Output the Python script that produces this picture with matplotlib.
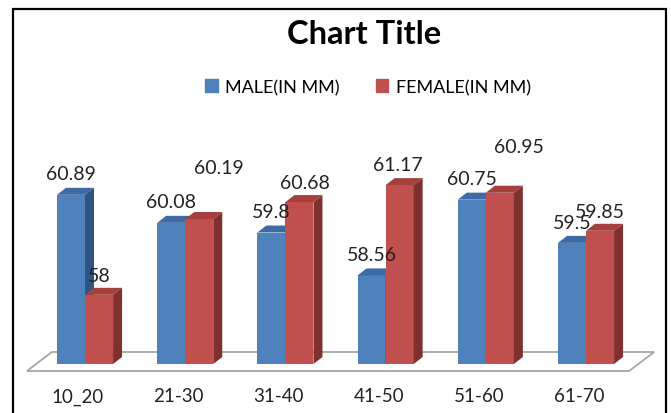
import matplotlib
matplotlib.use("Agg")
import matplotlib.pyplot as plt
from matplotlib.patches import Polygon, Rectangle
import numpy as np

categories = ["10_20", "21-30", "31-40", "41-50", "51-60", "61-70"]
male = [60.89, 60.08, 59.8, 58.56, 60.75, 59.5]
female = [58, 60.19, 60.68, 61.17, 60.95, 59.85]
series_names = ["MALE(IN MM)", "FEMALE(IN MM)"]

FONT = ["Lato", "DejaVu Sans"]
plt.rcParams['font.family'] = FONT

W, H = 671, 414
fig = plt.figure(figsize=(W / 100, H / 100), dpi=100)
fig.patch.set_facecolor("white")

ymin, ymax = 56, 62
px_per_unit = 34.6
base_px = 365
ax_bottom = (H - base_px) / H
ax_height = (ymax - ymin) * px_per_unit / H
cat_px = 100.2
first_px = 85
ax = fig.add_axes([0, ax_bottom, 1, ax_height])
ax.set_xlim(-first_px / cat_px, (W - first_px) / cat_px)
ax.set_ylim(ymin, ymax)
ax.axis("off")

bw = 0.28
dx = 9 / cat_px
dy = 7 / px_per_unit

colors = {
    0: ("#4F81BD", "#3E6BA3", "#2E5482"),
    1: ("#C0504D", "#A5403D", "#7F312F"),
}

x = np.arange(len(categories))

# floor
n = len(categories)
fl = Polygon([(-0.58, ymin - 7 / px_per_unit), (n - 1 + 0.43, ymin - 7 / px_per_unit),
              (n - 1 + 0.68, ymin + 12 / px_per_unit), (-0.33, ymin + 12 / px_per_unit)],
             closed=True, facecolor="white", edgecolor="#A6A6A6", lw=1.3, clip_on=False, zorder=1)
ax.add_patch(fl)

def draw_bar(x0, val, si, z):
    front, top, side = colors[si]
    ax.bar(x0, val - ymin, bw, bottom=ymin, align="edge", color=front, zorder=z, clip_on=False, lw=0)
    ax.add_patch(Polygon([(x0, val), (x0 + bw, val), (x0 + bw + dx, val + dy), (x0 + dx, val + dy)],
                         closed=True, facecolor=top, lw=0, zorder=z, clip_on=False))
    ax.add_patch(Polygon([(x0 + bw, ymin), (x0 + bw + dx, ymin + dy), (x0 + bw + dx, val + dy), (x0 + bw, val)],
                         closed=True, facecolor=side, lw=0, zorder=z, clip_on=False))

for i in range(n):
    draw_bar(x[i] - bw, male[i], 0, 2 + i * 2)
    draw_bar(x[i], female[i], 1, 3 + i * 2)

# data labels (offsets in points)
male_off = [(0, 15)] * n
female_off = [(0, 14), (14, 37), (4, 14), (-1, 15), (14, 33), (0, 14)]
LBL = 14
for i in range(n):
    ax.annotate(f"{male[i]:g}", (x[i] - bw / 2, male[i]), xytext=male_off[i], textcoords="offset points",
                ha="center", va="center", fontsize=LBL, color="#222222", zorder=20, annotation_clip=False)
    ax.annotate(f"{female[i]:g}", (x[i] + bw / 2, female[i]), xytext=female_off[i], textcoords="offset points",
                ha="center", va="center", fontsize=LBL, color="#222222", zorder=20, annotation_clip=False)
    ax.annotate(categories[i], (x[i] - 0.07, ymin), xytext=(0, -23), textcoords="offset points",
                ha="center", va="center", fontsize=13.5, color="#222222", annotation_clip=False)

# title
fig.text(364 / W, 1 - 35 / H, "Chart Title", ha="center", va="center", fontsize=23.5, fontweight="bold", color="black")

# legend
handles = [Rectangle((0, 0), 1, 1, color=colors[0][0]), Rectangle((0, 0), 1, 1, color=colors[1][0])]
leg = fig.legend(handles, series_names, loc="center", bbox_to_anchor=(368 / W, 1 - 88 / H), ncol=2,
                 frameon=False, fontsize=13, handlelength=0.7, handleheight=0.7, handletextpad=0.4,
                 columnspacing=2.0)

# outer border
fig.add_artist(Rectangle((12.7 / W, -0.05), (666 - 12.7) / W, 1.05 - 10 / H, transform=fig.transFigure,
                         fill=False, edgecolor="black", lw=1.6))

fig.savefig("out.png", dpi=100)
